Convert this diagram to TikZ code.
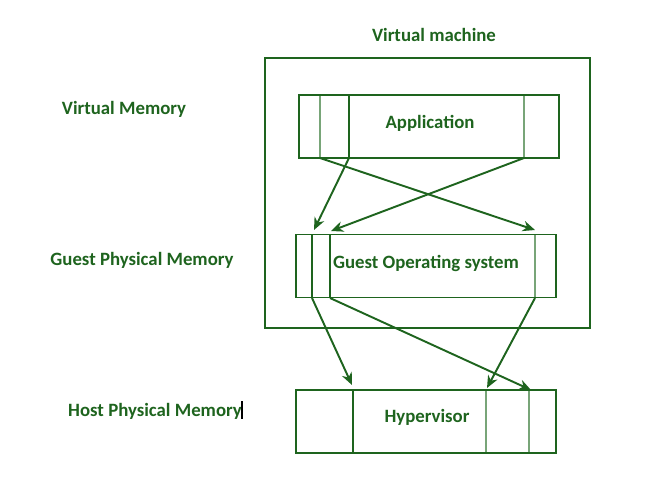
\documentclass[tikz,border=0pt]{standalone}
\usepackage{fontspec}
\setmainfont{Carlito}
\usetikzlibrary{arrows.meta}
\definecolor{vmgreen}{RGB}{30,100,30}
\definecolor{vmlight}{RGB}{120,165,120}
\tikzset{
  memtext/.style={text=vmgreen, font=\fontsize{10.7}{12}\selectfont\bfseries},
  membox/.style={draw=vmgreen, line width=1.1pt, minimum width=5.2cm, minimum height=1.26cm},
  part/.style={draw=vmgreen, line width=0.9pt},
  partlight/.style={draw=vmlight, line width=0.9pt},
  maparrow/.style={draw=vmgreen, line width=1.1pt, -{Stealth[length=7pt,width=6pt]}}
}
\begin{document}
\begin{tikzpicture}[x=0.02cm, y=-0.02cm]
  \useasboundingbox (0,0) rectangle (660,484);

  % Virtual machine frame
  \node[memtext] (vmtitle) at (434,35) {Virtual machine};
  \draw[vmgreen, line width=1.1pt] (265,58) rectangle (590,328);

  % Memory levels
  \node[memtext] (vmem) at (124,109) {Virtual Memory};
  \node[memtext] (gmem) at (142,260) {Guest Physical Memory};
  \node[memtext] (hmem) at (155,411) {Host Physical Memory};
  \draw[black, line width=0.6pt] (242,401) -- (242,419);

  % Boxes
  \node[membox] (app) at (429,126.5) {};
  \node[membox] (guest) at (426,266) {};
  \node[membox] (hyp) at (426,421.5) {};
  \node[memtext] (applbl) at (430,123) {Application};
  \node[memtext] (guestlbl) at (426,263) {Guest Operating system};
  \node[memtext] (hyplbl) at (427,417) {Hypervisor};

  % Partitions
  \draw[partlight] (320,96) -- (320,157);
  \draw[part] (349,96) -- (349,157);
  \draw[partlight] (524,96) -- (524,157);
  \draw[part] (312,235) -- (312,297);
  \draw[part] (330,235) -- (330,297);
  \draw[partlight] (535,235) -- (535,297);
  \draw[part] (353,391) -- (353,452);
  \draw[partlight] (486,391) -- (486,452);
  \draw[partlight] (529,391) -- (529,452);

  % Arrow ends
  \coordinate (a1) at (320,158);
  \coordinate (a2) at (349,158);
  \coordinate (a3) at (524,158);
  \coordinate (g1) at (312,298);
  \coordinate (g2) at (330,298);
  \coordinate (g3) at (535,298);
  \coordinate (t1) at (314,230);
  \coordinate (t2) at (331,231);
  \coordinate (t3) at (535,230);
  \coordinate (h1) at (352,385);
  \coordinate (h2) at (531,390);
  \coordinate (h3) at (487,388);

  % Mappings
  \draw[maparrow] (a2) -- (t1);
  \draw[maparrow] (a3) -- (t2);
  \draw[maparrow] (a1) -- (t3);
  \draw[maparrow] (g1) -- (h1);
  \draw[maparrow] (g2) -- (h2);
  \draw[maparrow] (g3) -- (h3);
\end{tikzpicture}
\end{document}
